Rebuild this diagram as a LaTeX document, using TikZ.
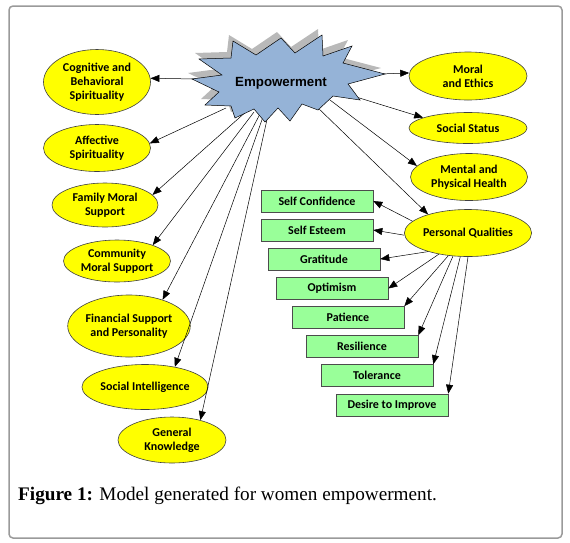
\documentclass[tikz,border=0pt]{standalone}
\usepackage{fontspec}
\setmainfont{Liberation Serif}
\newfontfamily\labfont{Carlito}
\newfontfamily\arialfont{Liberation Sans}
\usetikzlibrary{shapes.geometric,arrows.meta,calc}
\definecolor{ybg}{HTML}{FFFF00}
\definecolor{gbox}{HTML}{99FF99}
\definecolor{starblue}{HTML}{95B3D7}
\definecolor{frame}{HTML}{9A9A9A}
\begin{document}
\begin{tikzpicture}[x=1pt,y=-1pt,
  ell/.style={ellipse, draw=black!75, fill=ybg, inner sep=0pt, line width=0.6pt,
    font=\labfont\bfseries\fontsize{12}{14}\selectfont, align=center},
  gb/.style={rectangle, draw=black!70, fill=gbox, minimum width=112pt, minimum height=22pt,
    inner sep=0pt, line width=0.6pt, font=\labfont\bfseries\fontsize{12}{14}\selectfont},
  arr/.style={-{Triangle[length=9pt,width=7pt]}, line width=0.5pt},
  starpoly/.style={line width=0.5pt}]
\useasboundingbox (0,0) rectangle (570,542);
\draw[frame, line width=1.5pt, rounded corners=4pt] (9,6) rectangle (562,538);

% left ellipses
\node[ell, minimum width=107pt, minimum height=65pt] (cog) at (97,82) {Cognitive and\\Behavioral\\Spirituality};
\node[ell, minimum width=107pt, minimum height=47pt] (aff) at (97,148) {Affective\\Spirituality};
\node[ell, minimum width=106pt, minimum height=44pt] (fam) at (105,205) {Family Moral\\Support};
\node[ell, minimum width=107pt, minimum height=42pt] (com) at (117,261) {Community\\Moral Support};
\node[ell, minimum width=107pt, minimum height=62pt] (fin) at (129,326) {Financial Support\\and Personality};
\node[ell, minimum width=106pt, minimum height=45pt] (soc) at (145,387) {Social Intelligence};
\node[ell, minimum width=108pt, minimum height=46pt] (gen) at (172,440) {General\\Knowledge};

% right ellipses
\node[ell, minimum width=118pt, minimum height=48pt] (mor) at (468,76) {Moral\\and Ethics};
\node[ell, minimum width=118pt, minimum height=31pt] (sta) at (468,128) {Social Status};
\node[ell, minimum width=117pt, minimum height=47pt] (men) at (469,177) {Mental and\\Physical Health};
\node[ell, minimum width=118pt, minimum height=47pt] (pq) at (468,233) {Personal Qualities};

% green boxes
\node[gb] (sc) at (317,201) {Self Confidence};
\node[gb] (se) at (317,230) {Self Esteem};
\node[gb] (gr) at (324,259) {Gratitude};
\node[gb] (op) at (332,288.5) {Optimism};
\node[gb] (pa) at (348,317.5) {Patience};
\node[gb] (re) at (362,346.5) {Resilience};
\node[gb] (to) at (377,375.5) {Tolerance};
\node[gb] (de) at (392,405) {Desire to Improve};

% star start points
\coordinate (ecog) at (197,79);
\coordinate (eaff) at (226,108);
\coordinate (efam) at (248,110);
\coordinate (ecom) at (254,112);
\coordinate (efin) at (260,114);
\coordinate (esoc) at (264,114);
\coordinate (egen) at (268,115);
\coordinate (emor) at (380,74);
\coordinate (esta) at (340,92);
\coordinate (emen) at (330,100);
\coordinate (epq) at (316,106);

% shadow of star
\fill[gray!55, shift={(-4,-6)}] (233,41) -- (256,55) -- (281,38) -- (295,53) -- (322,35) -- (323,56) -- (352,46) -- (343,63) -- (385,74) -- (348,84) -- (360,100) -- (333,96) -- (318,110) -- (302,104) -- (290,121) -- (278,108) -- (265,122) -- (254,109) -- (235,118) -- (231,106) -- (205,105) -- (219,92) -- (192,79) -- (222,75) -- (199,59) -- (231,58) -- cycle;

% arrows from star
\draw[arr] (ecog) -- (cog.4);
\draw[arr] (eaff) -- (aff.5);
\draw[arr] (efam) -- (fam.12);
\draw[arr] (ecom) -- (com.24);
\draw[arr] (efin) -- (fin.38);
\draw[arr] (esoc) -- (soc.34);
\draw[arr] (egen) -- (gen.35);
\draw[arr] (emor) -- (mor.177);
\draw[arr] (esta) -- (sta.167);
\draw[arr] (emen) -- (men.168);
\draw[arr] (epq) -- (pq.155);

% star
\filldraw[fill=starblue, draw=black, starpoly] (233,41) -- (256,55) -- (281,38) -- (295,53) -- (322,35) -- (323,56) -- (352,46) -- (343,63) -- (385,74) -- (348,84) -- (360,100) -- (333,96) -- (318,110) -- (302,104) -- (290,121) -- (278,108) -- (265,122) -- (254,109) -- (235,118) -- (231,106) -- (205,105) -- (219,92) -- (192,79) -- (222,75) -- (199,59) -- (231,58) -- cycle;
\node[font=\arialfont\bfseries\fontsize{13.3}{16}\selectfont, inner sep=0pt] (emp) at (281,83) {Empowerment};

% arrows from personal qualities
\draw[arr] (pq.168) -- (sc.east);
\draw[arr] (pq.182) -- (se.east);
\draw[arr] (pq.205) -- (gr.east);
\draw[arr] (pq.216) -- (op.east);
\draw[arr] (pq.229) -- (pa.north east);
\draw[arr] (pq.237) -- (re.north east);
\draw[arr] (pq.252) -- (to.north east);
\draw[arr] (pq.270) -- (de.north east);

% caption
\node[anchor=base west, inner sep=0pt, font=\fontsize{19.2}{23}\selectfont] (cap) at (18,500) {\textbf{Figure 1:} Model generated for women empowerment.};
\end{tikzpicture}
\end{document}
